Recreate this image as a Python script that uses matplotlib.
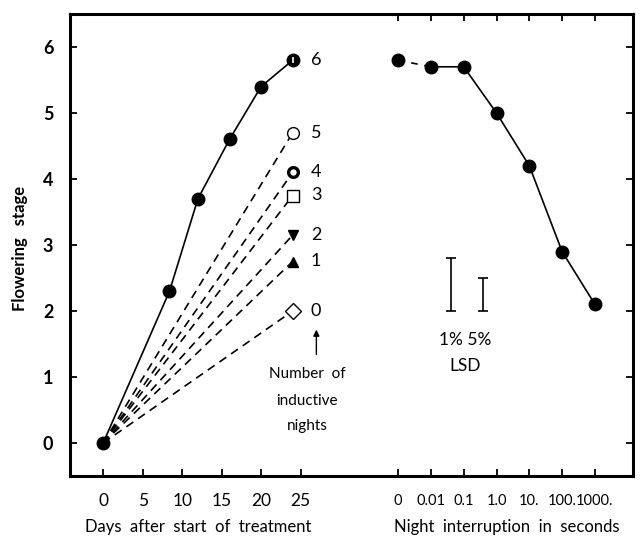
import matplotlib
matplotlib.use("Agg")
import matplotlib.pyplot as plt

plt.rcParams['font.family'] = ['Lato', 'DejaVu Sans']

# left panel: days after start of treatment, continuous induction
days = [0, 8.4, 12, 16, 20, 24]
stage_days = [0, 2.3, 3.7, 4.6, 5.4, 5.8]

# end points after a number of inductive nights (day 24)
nights = ['0', '1', '2', '3', '4', '5', '6']
stage_nights = [2.0, 2.75, 3.15, 3.75, 4.1, 4.7, 5.8]

# right panel: night interruption in seconds
interrupt_labels = ['0', '0.01', '0.1', '1.0', '10.', '100.', '1000.']
stage_interrupt = [5.8, 5.7, 5.7, 5.0, 4.2, 2.9, 2.1]

# LSD bars
lsd_labels = ['1%', '5%']
lsd_pos = [1.6, 2.6]
lsd_base = 2.0
lsd_len = [0.8, 0.5]

fig = plt.figure(figsize=(6.44, 5.45), dpi=100)
ax = fig.add_axes([70/644, 1-476/545, 563/644, 462/545])
ax.set_xlim(-4.2, 67.1)
ax.set_ylim(-0.5, 6.5)

for s in ax.spines.values():
    s.set_linewidth(2.2)

ax.set_xticks([0, 5, 10, 15, 20, 25])
ax.set_yticks(range(7))
ax.tick_params(direction='in', length=5, width=1.3, top=True, right=True)
ax.tick_params(axis='y', labelsize=13, pad=12)
ax.tick_params(axis='x', labelsize=12.5, pad=12)
for lab in ax.get_yticklabels():
    lab.set_fontweight('bold')

# main curve
ax.plot(days, stage_days, '-', color='black', lw=1.2, marker='o', ms=9,
        zorder=3)
ax.plot([24], [5.8], marker='|', color='white', ms=5, mew=1.2, zorder=4)

# dashed lines to each number of inductive nights
styles = [
    dict(marker='D', ms=8.5, mfc='white', mec='black', mew=1.0),
    dict(marker='^', ms=7, mfc='black', mec='black'),
    dict(marker='v', ms=7, mfc='black', mec='black'),
    dict(marker='s', ms=8.5, mfc='white', mec='black', mew=1.0),
    dict(marker='o', ms=7, mfc='white', mec='black', mew=2.4),
    dict(marker='o', ms=8.5, mfc='white', mec='black', mew=1.0),
]
for i, st in enumerate(styles):
    ax.plot([0, 24], [0, stage_nights[i]], '--', color='black', lw=1.2,
            dashes=(5, 3.5), zorder=2)
    ax.plot([24], [stage_nights[i]], ls='none', zorder=3, **st)

for n, v in zip(nights, stage_nights):
    ax.text(26.3, v, n, ha='left', va='center', fontsize=13)

ax.annotate('', xy=(27.0, 1.76), xytext=(27.0, 1.3),
            arrowprops=dict(arrowstyle='-|>', color='black', lw=1.0,
                            mutation_scale=9))
ax.text(25.8, 1.05, 'Number  of', ha='center', va='center', fontsize=11)
ax.text(25.8, 0.63, 'inductive', ha='center', va='center', fontsize=11)
ax.text(25.8, 0.26, 'nights', ha='center', va='center', fontsize=11)

# right panel on a twin x axis
ax2 = ax.twiny()
ax2.set_xlim(-10, 7.16)
ax2.set_xticks(range(len(interrupt_labels)))
ax2.set_xticklabels(interrupt_labels)
ax2.tick_params(axis='x', direction='in', length=5, width=1.3, top=True,
                bottom=True, labeltop=False, labelbottom=True, labelsize=10.5,
                pad=13)
for s in ax2.spines.values():
    s.set_visible(False)

ix = list(range(len(interrupt_labels)))
ax2.plot(ix[:2], stage_interrupt[:2], '--', color='black', lw=1.2,
         dashes=(4, 4))
ax2.plot(ix[1:], stage_interrupt[1:], '-', color='black', lw=1.2)
ax2.plot(ix, stage_interrupt, ls='none', marker='o', ms=9, color='black',
         zorder=3)

ax2.errorbar(lsd_pos, [lsd_base + l/2 for l in lsd_len],
             yerr=[l/2 for l in lsd_len], fmt='none', ecolor='black',
             elinewidth=1.2, capsize=3.5, capthick=1.2)
ax2.text(2.05, 1.56, ' '.join(lsd_labels), ha='center', va='center',
         fontsize=12.5)
ax2.text(2.05, 1.17, 'LSD', ha='center', va='center', fontsize=12.5)

fig.text(20/644, 1-248/545, 'Flowering   stage', rotation=90, ha='center',
         va='center', fontsize=12, fontweight='bold')
fig.text(198/644, 1-527/545, 'Days  after  start  of  treatment',
         ha='center', va='center', fontsize=12)
fig.text(507/644, 1-527/545, 'Night  interruption  in  seconds',
         ha='center', va='center', fontsize=12)

fig.savefig('out.png', dpi=100)
